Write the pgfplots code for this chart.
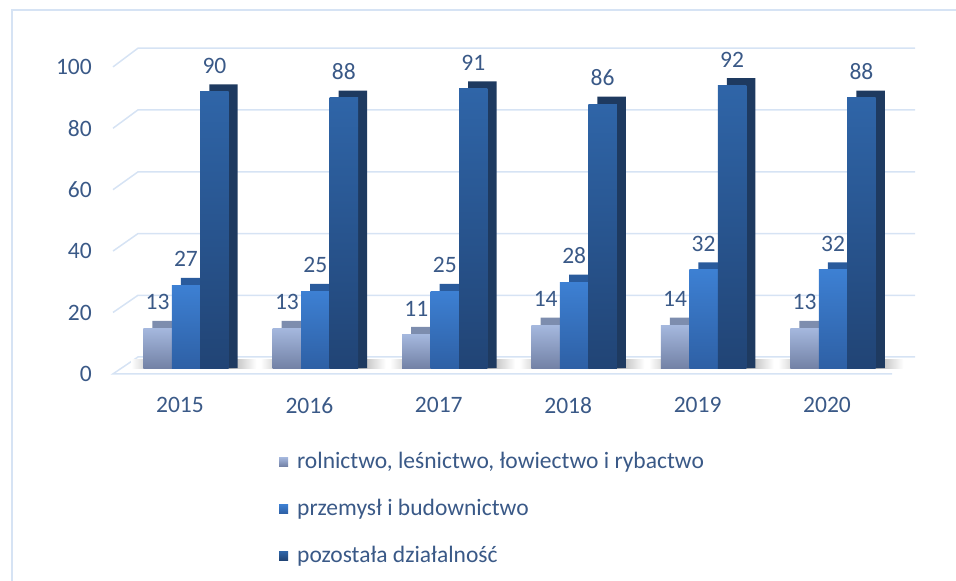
\documentclass[border=0pt]{standalone}
\usepackage{pgfplots}
\pgfplotsset{compat=1.18}
\usepackage{pgfplotstable}
\usepackage{fontspec}
\setmainfont{Carlito}
\definecolor{txt}{HTML}{3A5987}
\definecolor{gridc}{HTML}{D6E3F4}
\definecolor{ltA}{HTML}{A5B8DE}
\definecolor{ltB}{HTML}{7382A6}
\definecolor{ltD}{HTML}{7D8DAE}
\definecolor{mdA}{HTML}{3D80D3}
\definecolor{mdB}{HTML}{2E60A5}
\definecolor{mdD}{HTML}{2A5B9C}
\definecolor{dkA}{HTML}{2F65A8}
\definecolor{dkB}{HTML}{214475}
\definecolor{dkD}{HTML}{1E3A60}
\newcommand{\fnt}{\fontsize{23.6}{28}\selectfont}
\pgfplotstableread{
x a b c
0 13 27 90
1 13 25 88
2 11 25 91
3 14 28 86
4 14 32 92
5 13 32 88
}\data
\begin{document}
\begin{tikzpicture}[x=1bp,y=1bp]
\useasboundingbox (0,0) rectangle (956,581);
\draw[gridc, line width=1.5bp] (12,-20) -- (12,571) -- (990,571);
\begin{axis}[
  at={(113bp,197.6bp)}, anchor=south west,
  scale only axis, width=802.8bp, height=346.9bp,
  xmin=-0.564, xmax=5.64, ymin=-5, ymax=108,
  axis line style={draw=none}, tick style={draw=none},
  clip=false,
  xtick={0,1,2,3,4,5},
  xticklabels={2015,2016,2017,2018,2019,2020},
  ytick={-1.9,18.1,38.1,58.1,78.1,98.1},
  yticklabels={0,20,40,60,80,100},
  tick label style={font=\fnt, text=txt, inner sep=0pt},
  xticklabel style={anchor=north, xshift=-6bp, yshift=-13.6bp},
  yticklabel style={anchor=east, xshift=-21bp},
  legend style={draw=none, fill=none, at={(axis description cs:0.203,-0.195)}, anchor=north west,
    font=\fnt, text=txt, row sep=27bp, nodes={inner sep=0pt, text height=15bp, text depth=5bp}},
  legend cell align=left,
  legend image code/.code={\path[#1,draw=none] (0bp,-3bp) rectangle (9bp,6bp); \path[draw=none,fill=none] (0bp,0bp) rectangle (18bp,0.1bp);},
  nodes near coords style={font=\fnt, text=txt, anchor=south, inner sep=0pt, yshift=18bp,
    /pgf/number format/assume math mode=true},
]
% grid lines
\addplot[gridc, line width=1.5bp, forget plot] coordinates {(5.456,-1.9) (-0.564,-1.9) (-0.371,3.6) (5.634,3.6)};
\addplot[gridc, line width=1.5bp, forget plot] coordinates {(-0.564,18.1) (-0.371,23.7) (5.634,23.7)};
\addplot[gridc, line width=1.5bp, forget plot] coordinates {(-0.564,38.1) (-0.371,43.8) (5.634,43.8)};
\addplot[gridc, line width=1.5bp, forget plot] coordinates {(-0.564,58.1) (-0.371,63.9) (5.634,63.9)};
\addplot[gridc, line width=1.5bp, forget plot] coordinates {(-0.564,78.1) (-0.371,84.1) (5.634,84.1)};
\addplot[gridc, line width=1.5bp, forget plot] coordinates {(-0.564,98.1) (-0.371,104.2) (5.634,104.2)};
% floor shadows, one per group
\pgfplotsinvokeforeach{0,...,5}{
\addplot[ybar, bar width=0.966, bar shift=0.06, draw=none, left color=white, right color=white, middle color=black!70,
  forget plot, restrict x to domain=#1:#1] table[x=x, y expr=2.8]{\data};
}
% depth faces
\addplot[ybar, bar width=0.22, bar shift=-0.15, draw=none, fill=ltD, forget plot] table[x=x, y expr=\thisrow{a}+2.4]{\data};
\addplot[ybar, bar width=0.22, bar shift=0.07, draw=none, fill=mdD, forget plot] table[x=x, y expr=\thisrow{b}+2.4]{\data};
\addplot[ybar, bar width=0.22, bar shift=0.29, draw=none, fill=dkD, forget plot] table[x=x, y expr=\thisrow{c}+2.4]{\data};
% front faces, one bar per plot so that each bar has its own gradient
\pgfplotsinvokeforeach{0,...,5}{
\addplot[ybar, bar width=0.22, bar shift=-0.22, draw=none, top color=ltA, bottom color=ltB, forget plot,
  restrict x to domain=#1:#1] table[x=x, y=a]{\data};
\addplot[ybar, bar width=0.22, bar shift=0, draw=none, top color=mdA, bottom color=mdB, forget plot,
  restrict x to domain=#1:#1] table[x=x, y=b]{\data};
\addplot[ybar, bar width=0.22, bar shift=0.22, draw=none, top color=dkA, bottom color=dkB, forget plot,
  restrict x to domain=#1:#1] table[x=x, y=c]{\data};
}
% value labels
\addplot[draw=none, mark=none, nodes near coords, forget plot] table[x expr=\thisrow{x}-0.22, y=a]{\data};
\addplot[draw=none, mark=none, nodes near coords, forget plot] table[x expr=\thisrow{x}, y=b]{\data};
\addplot[draw=none, mark=none, nodes near coords, forget plot] table[x expr=\thisrow{x}+0.22, y=c]{\data};
% legend
\addlegendimage{top color=ltA, bottom color=ltB}
\addlegendentry{rolnictwo, leśnictwo, łowiectwo i rybactwo}
\addlegendimage{top color=mdA, bottom color=mdB}
\addlegendentry{przemysł i budownictwo}
\addlegendimage{top color=dkA, bottom color=dkB}
\addlegendentry{pozostała działalność}
\end{axis}
\end{tikzpicture}
\end{document}
